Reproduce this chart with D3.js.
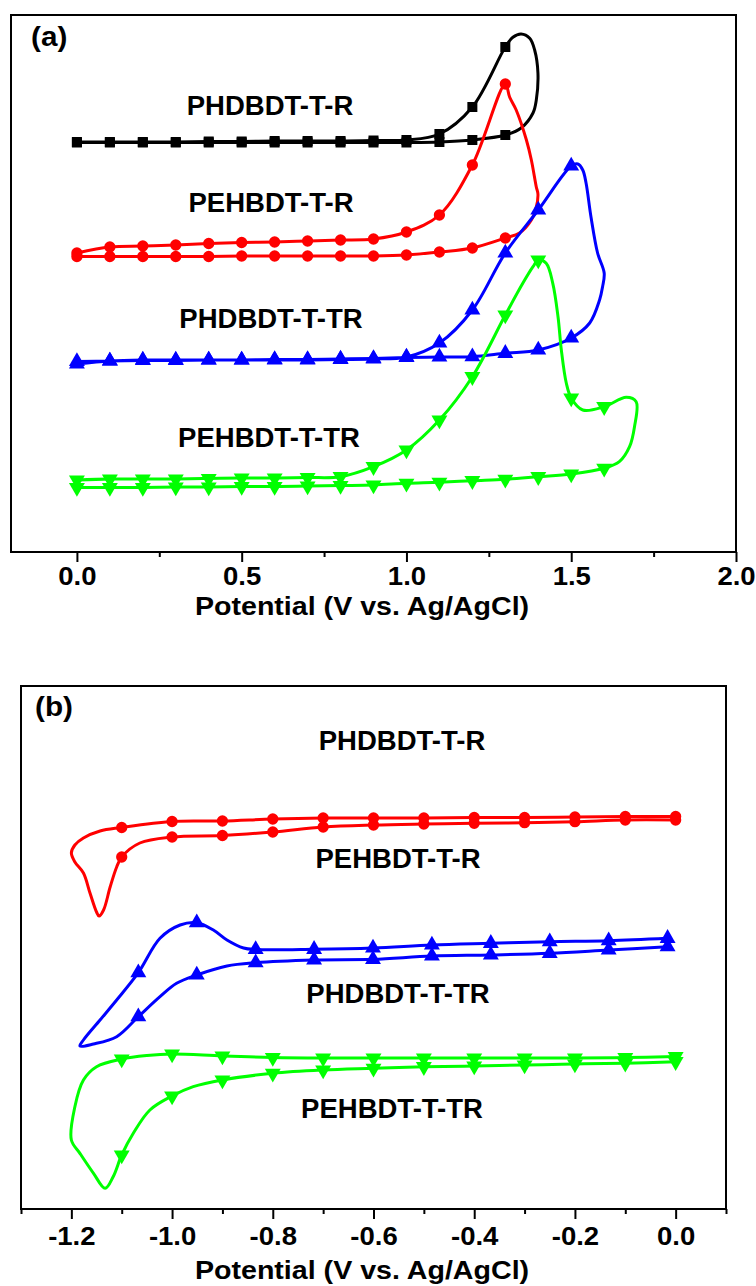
<!DOCTYPE html>
<html>
<head>
<meta charset="utf-8">
<script src="https://cdn.jsdelivr.net/npm/d3@7"></script>
<style>
  body { margin: 0; background: #fff; }
  text { font-family: "Liberation Sans", Arial, sans-serif; font-weight: bold; fill: #000; }
</style>
</head>
<body>
<svg id="chart" width="756" height="1286"></svg>
<script>
// [potential (V), current (a.u.), marker?]
const aBlack = [[0,410,1],[0.1,410,1],[0.2,410,1],[0.3,410,1],[0.4,410.5,1],[0.5,410.5,1],[0.6,411,1],[0.7,411,1],[0.8,411,1],[0.9,411.5,1],[1.0,412,1],[1.1,418,1],[1.2,445,1],[1.3,505,1],[1.323,514.7,0],[1.348,518,0],[1.374,513.7,0],[1.389,502,0],[1.399,479,0],[1.394,452,0],[1.384,439,0],[1.348,424,0],[1.3,417,1],[1.2,412,1],[1.1,410,1],[1.0,409.5,1],[0.9,409.5,1],[0.8,409.5,1],[0.7,409.5,1],[0.6,409.5,1],[0.5,409.5,1],[0.4,409.5,1],[0.3,409.5,1],[0.2,409.5,1],[0.1,409.5,1],[0,409.5,1]];
const aRed = [[0,299,1],[0.1,305,1],[0.2,306,1],[0.3,307,1],[0.4,308.5,1],[0.5,309.5,1],[0.6,310,1],[0.7,311,1],[0.8,312,1],[0.9,313,1],[1.0,320,1],[1.1,337,1],[1.2,387,1],[1.3,468,1],[1.313,455,0],[1.333,442,0],[1.364,412,0],[1.379,392,0],[1.394,365,0],[1.399,358,0],[1.394,345,0],[1.379,332,0],[1.343,319,0],[1.3,314,1],[1.2,304,1],[1.1,300,1],[1.0,297,1],[0.9,296,1],[0.8,296,1],[0.7,296,1],[0.6,296,1],[0.5,296,1],[0.4,295.5,1],[0.3,295.5,1],[0.2,295.5,1],[0.1,295.5,1],[0,295.5,1]];
const aBlue = [[0,188,1],[0.1,191,1],[0.2,192,1],[0.3,192,1],[0.4,192,1],[0.5,192,1],[0.6,192,1],[0.7,192,1],[0.8,192.5,1],[0.9,193,1],[1.0,195,1],[1.1,209,1],[1.2,242,1],[1.3,299,1],[1.4,342,1],[1.5,386,1],[1.52,388,0],[1.535,382,0],[1.545,369,0],[1.56,335,0],[1.58,299,0],[1.6,279,0],[1.595,265,0],[1.586,252,0],[1.556,229,0],[1.5,214,1],[1.4,202,1],[1.3,198.7,1],[1.2,195.3,1],[1.1,195,1],[1.0,194.5,1],[0.9,193.5,1],[0.8,193,1],[0.7,192.5,1],[0.6,192.5,1],[0.5,192,1],[0.4,192,1],[0.3,191.5,1],[0.2,191.5,1],[0.1,191,1],[0,190.5,1]];
const aGreen = [[0,72,1],[0.1,73,1],[0.2,73,1],[0.3,73,1],[0.4,73.5,1],[0.5,74,1],[0.6,74,1],[0.7,74.5,1],[0.8,75.3,1],[0.9,85.3,1],[1.0,102,1],[1.1,132,1],[1.2,175.3,1],[1.3,237,1],[1.353,268.7,0],[1.384,285.3,0],[1.4,292,1],[1.424,288.7,0],[1.444,268.7,0],[1.46,235,0],[1.47,202,0],[1.485,169,0],[1.5,154,1],[1.535,142,0],[1.6,145.3,1],[1.667,154.7,0],[1.697,150.3,0],[1.692,125.3,0],[1.677,105.3,0],[1.646,90.3,0],[1.6,83.7,1],[1.5,78,1],[1.4,75.3,1],[1.3,72.7,1],[1.2,71.3,1],[1.1,69.7,1],[1.0,68.7,1],[0.9,67,1],[0.8,66.5,1],[0.7,66,1],[0.6,65.5,1],[0.5,65.5,1],[0.4,65,1],[0.3,65,1],[0.2,64.5,1],[0.1,64.5,1],[0,64.5,1]];

const bRed = [[0,392.5,1],[-0.1,392.5,1],[-0.2,392,1],[-0.3,391.5,1],[-0.4,391.5,1],[-0.5,391,1],[-0.6,391,1],[-0.7,391,1],[-0.8,390,1],[-0.9,388,1],[-1.0,387.5,1],[-1.1,381.5,1],[-1.143,378,0],[-1.176,371,0],[-1.193,364,0],[-1.2,356,0],[-1.193,347,0],[-1.176,336,0],[-1.163,316,0],[-1.15,297,0],[-1.145,293,0],[-1.136,299,0],[-1.123,322,0],[-1.11,342,0],[-1.1,352,1],[-1.064,366,0],[-1.0,372,1],[-0.9,373.5,1],[-0.8,377,1],[-0.7,382,1],[-0.6,384,1],[-0.5,385,1],[-0.4,385.7,1],[-0.3,386.3,1],[-0.2,387.3,1],[-0.1,389,1],[0,389,1]];
const bBlue = [[-0.016,270.7,1],[-0.133,268.3,1],[-0.25,267.3,1],[-0.367,265.7,1],[-0.484,264,1],[-0.601,261,1],[-0.718,259.7,1],[-0.834,259.5,1],[-0.858,261,0],[-0.891,269,0],[-0.918,279,0],[-0.951,286.3,1],[-0.984,284,0],[-1.024,270.7,0],[-1.067,236.3,1],[-1.11,209,0],[-1.143,189,0],[-1.176,169,0],[-1.183,163,0],[-1.156,165,0],[-1.11,172.3,0],[-1.067,192.3,1],[-1.024,212.3,0],[-0.991,225.7,0],[-0.951,234,1],[-0.891,243,0],[-0.834,246.3,1],[-0.718,249,1],[-0.601,249.7,1],[-0.484,253,1],[-0.367,254,1],[-0.25,255.7,1],[-0.133,259,1],[-0.016,262.3,1]];
const bGreen = [[0,152.5,1],[-0.1,151.5,1],[-0.2,151,1],[-0.3,151,1],[-0.4,151,1],[-0.5,151,1],[-0.6,151,1],[-0.7,151,1],[-0.8,151.5,1],[-0.9,153,1],[-1.0,155,1],[-1.05,153.5,0],[-1.1,150,1],[-1.15,142.3,0],[-1.176,129,0],[-1.193,102.3,0],[-1.2,69,0],[-1.183,55.7,0],[-1.156,35.7,0],[-1.133,20.7,0],[-1.117,32.3,0],[-1.1,54,1],[-1.077,75.7,0],[-1.044,99,0],[-1.0,113,1],[-0.958,122.3,0],[-0.9,129,1],[-0.8,135.7,1],[-0.7,139,1],[-0.6,140.7,1],[-0.5,142.3,1],[-0.4,143,1],[-0.3,144,1],[-0.2,145,1],[-0.1,145.7,1],[0,147.3,1]];

const majorA = [0, 0.5, 1.0, 1.5, 2.0];
const minorA = [0.25, 0.75, 1.25, 1.75];
const majorB = [-1.2, -1.0, -0.8, -0.6, -0.4, -0.2, 0.0];
const minorB = [-1.3, -1.1, -0.9, -0.7, -0.5, -0.3, -0.1, 0.1];

const namesA = ["PHDBDT-T-R", "PEHBDT-T-R", "PHDBDT-T-TR", "PEHBDT-T-TR"];
const namesB = ["PHDBDT-T-R", "PEHBDT-T-R", "PHDBDT-T-TR", "PEHBDT-T-TR"];
const xTitle = "Potential (V vs. Ag/AgCl)";

const svg = d3.select("#chart");

const xA = d3.scaleLinear().domain([-0.2, 2.0]).range([11, 736]);
const yA = d3.scaleLinear().domain([0, 537]).range([552, 15]);
const xB = d3.scaleLinear().domain([-1.3, 0.1]).range([21, 726]);
const yB = d3.scaleLinear().domain([0, 523]).range([1209, 686]);

const styles = [
  {color: "#000000", sym: d3.symbolSquare, size: 100, rot: 0},
  {color: "#ff0000", sym: d3.symbolCircle, size: 100, rot: 0},
  {color: "#0000ff", sym: d3.symbolTriangle, size: 110, rot: 0},
  {color: "#00ff00", sym: d3.symbolTriangle, size: 110, rot: 180}
];

function drawPanel(x, y, curves, styleIdx, major, minor, names, namePos, tag, tagPos, titleX, labelY, titleY) {
  const g = svg.append("g");
  const line = d3.line()
    .x(d => x(d[0])).y(d => y(d[1]))
    .curve(d3.curveCatmullRom.alpha(0.5));

  curves.forEach((c, i) => {
    const s = styles[styleIdx[i]];
    g.append("path").attr("d", line(c))
      .attr("fill", "none").attr("stroke", s.color)
      .attr("stroke-width", 3).attr("stroke-linejoin", "round");
    g.selectAll(null).data(c.filter(d => d[2]))
      .enter().append("path")
      .attr("d", d3.symbol().type(s.sym).size(s.size))
      .attr("transform", d => `translate(${x(d[0])},${y(d[1])}) rotate(${s.rot})`)
      .attr("fill", s.color);
  });

  // frame
  const [x0, x1] = x.range(), [y0, y1] = y.range();
  g.append("rect").attr("x", x0).attr("y", y1)
    .attr("width", x1 - x0).attr("height", y0 - y1)
    .attr("fill", "none").attr("stroke", "#000").attr("stroke-width", 2);

  const ax = g.append("g").attr("transform", `translate(0,${y0})`)
    .call(d3.axisBottom(x).tickValues(major).tickSize(10).tickFormat(d => d.toFixed(1)));
  ax.select(".domain").remove();
  ax.selectAll(".tick line").attr("stroke-width", 2);
  ax.selectAll(".tick text")
    .attr("y", labelY).attr("dy", null)
    .attr("transform", "scale(1.1,1)")
    .style("font-size", "25px")
    .style("font-family", "'Liberation Sans', Arial, sans-serif")
    .style("font-weight", "bold");

  const mn = g.append("g").attr("transform", `translate(0,${y0})`)
    .call(d3.axisBottom(x).tickValues(minor).tickSize(5).tickFormat(""));
  mn.select(".domain").remove();
  mn.selectAll(".tick line").attr("stroke-width", 2);

  g.append("text")
    .attr("transform", `translate(${titleX},${y0 + titleY}) scale(1.1,1)`)
    .attr("text-anchor", "middle").style("font-size", "26px")
    .text(xTitle);

  g.append("text")
    .attr("transform", `translate(${tagPos[0]},${tagPos[1]}) scale(1.1,1)`)
    .style("font-size", "27px").text(tag);

  g.selectAll(null).data(names).enter().append("text")
    .attr("x", (d, i) => namePos[i][0]).attr("y", (d, i) => namePos[i][1])
    .attr("text-anchor", "middle").style("font-size", "27.5px")
    .text(d => d);
}

drawPanel(xA, yA, [aBlack, aRed, aBlue, aGreen], [0, 1, 2, 3], majorA, minorA, namesA,
  [[270, 115], [271, 212], [271, 328], [269, 447]], "(a)", [31, 46], 362, 33, 63);
drawPanel(xB, yB, [bRed, bBlue, bGreen], [1, 2, 3], majorB, minorB, namesB,
  [[402, 750], [398, 868], [398, 1003], [392, 1118]], "(b)", [35, 716], 362, 36, 70);
</script>
</body>
</html>
